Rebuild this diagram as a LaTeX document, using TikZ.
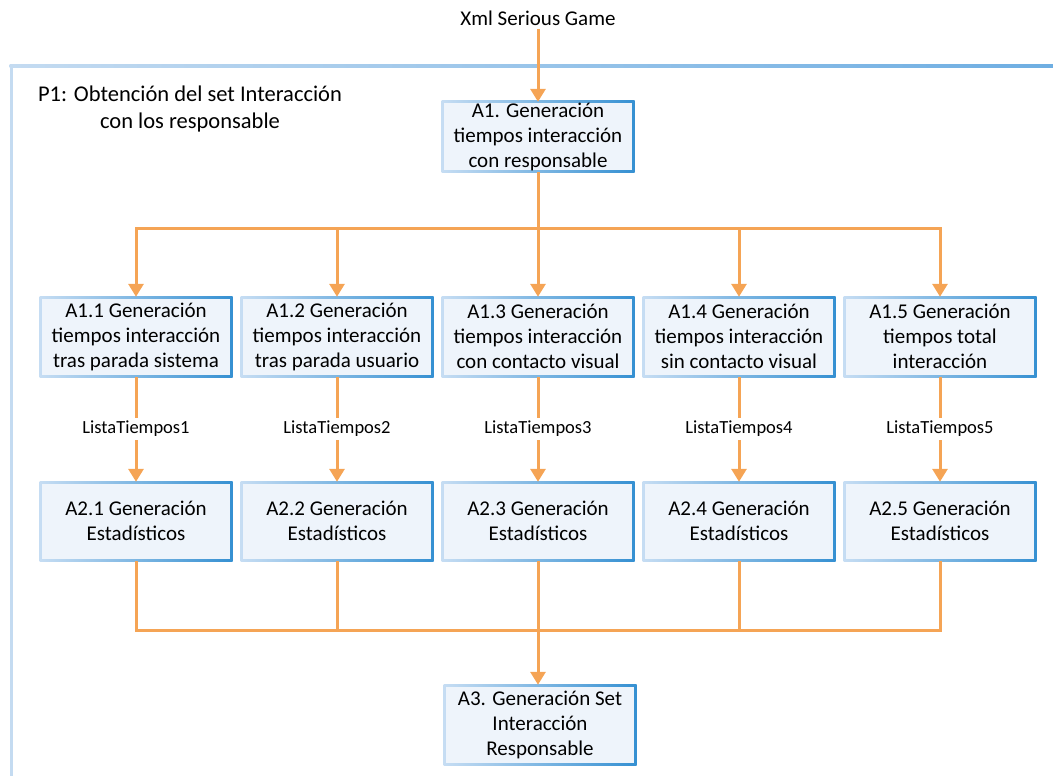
\documentclass[tikz,border=0pt]{standalone}
\usepackage{fontspec}
\setmainfont{Carlito}
\usetikzlibrary{arrows.meta}
\definecolor{edgelight}{HTML}{C6DDF3}
\definecolor{edgedark}{HTML}{3590D2}
\definecolor{boxfill}{HTML}{EEF4FB}
\definecolor{flow}{HTML}{F5A455}
\definecolor{framelight}{HTML}{C4DBF1}
\definecolor{framedark}{HTML}{6EAEE2}
\tikzset{
  x=1pt, y=-1pt,
  actbox/.style={left color=edgelight, right color=edgedark,
    minimum width=193pt, minimum height=81pt, inner sep=0pt, align=center,
    font=\fontsize{21}{25}\selectfont,
    path picture={\fill[boxfill]
      ([shift={(2.5pt,-2.5pt)}]path picture bounding box.north west) rectangle
      ([shift={(-2.5pt,2.5pt)}]path picture bounding box.south east);}},
  flowline/.style={draw=flow, line width=3pt},
  flowarrow/.style={flowline, -{Triangle[width=15pt,length=13pt]}, shorten >=-1pt},
  lbl/.style={fill=white, inner sep=3pt, font=\fontsize{18.5}{22}\selectfont}
}
\begin{document}
\begin{tikzpicture}
\useasboundingbox (0,0) rectangle (1053,776);
% process frame
\shade[left color=framelight, right color=framedark] (9.5,64.5) rectangle (1053,67.5);
\fill[framelight] (9.5,64.5) rectangle (12.5,776);
\node[align=center, font=\fontsize{22.5}{27}\selectfont] (title) at (190,109)
  {P1: Obtención del set Interacción\\con los responsable};

\node[font=\fontsize{21}{25}\selectfont] (xml) at (538,18) {Xml Serious Game};

\node[actbox, minimum height=71pt] (A1) at (538,136.5)
  {A1. Generación\\tiempos interacción\\con responsable};

\node[actbox] (A11) at (136,336.5) {A1.1 Generación\\tiempos interacción\\tras parada sistema};
\node[actbox] (A12) at (337,336.5) {A1.2 Generación\\tiempos interacción\\tras parada usuario};
\node[actbox] (A13) at (538,336.5) {A1.3 Generación\\tiempos interacción\\con contacto visual};
\node[actbox] (A14) at (739,336.5) {A1.4 Generación\\tiempos interacción\\sin contacto visual};
\node[actbox] (A15) at (940,336.5) {A1.5 Generación\\tiempos total\\interacción};

\node[actbox, minimum height=80pt] (A21) at (136,521) {A2.1 Generación\\Estadísticos};
\node[actbox, minimum height=80pt] (A22) at (337,521) {A2.2 Generación\\Estadísticos};
\node[actbox, minimum height=80pt] (A23) at (538,521) {A2.3 Generación\\Estadísticos};
\node[actbox, minimum height=80pt] (A24) at (739,521) {A2.4 Generación\\Estadísticos};
\node[actbox, minimum height=80pt] (A25) at (940,521) {A2.5 Generación\\Estadísticos};

\node[actbox] (A3) at (540,724.5) {A3. Generación Set\\Interacción\\Responsable};

\coordinate (split) at (538,228);
\coordinate (join) at (538,630);

% input
\draw[flowarrow] (xml) -- (A1);
% fan out
\draw[flowline] (A1) -- (split);
\draw[flowline, line cap=rect] (A11.north |- split) -- (A15.north |- split);
\foreach \n in {A11,A12,A13,A14,A15}
  \draw[flowarrow] (\n.north |- split) -- (\n);
% time lists
\draw[flowarrow] (A11) -- node[lbl] {ListaTiempos1} (A21);
\draw[flowarrow] (A12) -- node[lbl] {ListaTiempos2} (A22);
\draw[flowarrow] (A13) -- node[lbl] {ListaTiempos3} (A23);
\draw[flowarrow] (A14) -- node[lbl] {ListaTiempos4} (A24);
\draw[flowarrow] (A15) -- node[lbl] {ListaTiempos5} (A25);
% fan in
\foreach \n in {A21,A22,A23,A24,A25}
  \draw[flowline] (\n) -- (\n.south |- join);
\draw[flowline, line cap=rect] (A21.south |- join) -- (A25.south |- join);
\draw[flowarrow] (join) -- (A3.north -| join);
\end{tikzpicture}
\end{document}
